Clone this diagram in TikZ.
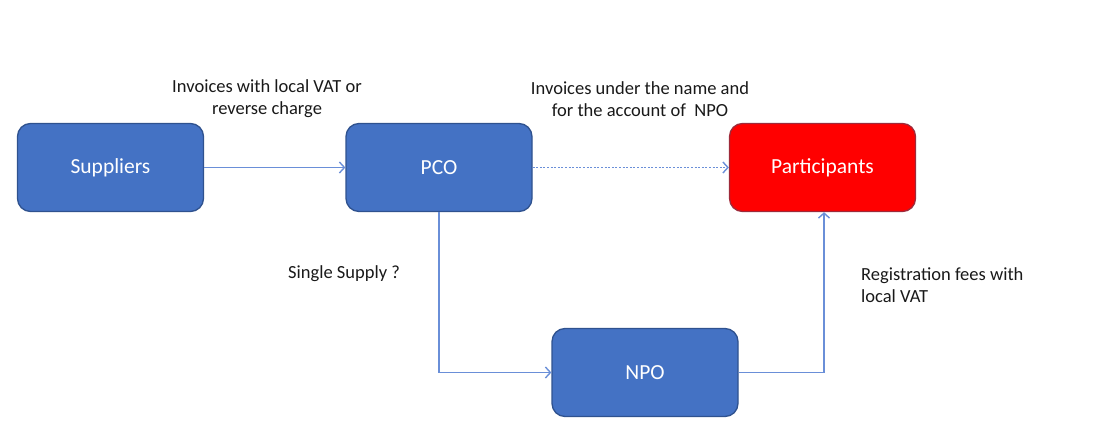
\documentclass[tikz,border=0pt]{standalone}
\usepackage{fontspec}
\setmainfont{Carlito}
\usetikzlibrary{arrows.meta}
\definecolor{boxblue}{HTML}{4472C4}
\definecolor{boxline}{HTML}{2F528F}
\definecolor{flowline}{HTML}{6A8FD8}
\definecolor{partred}{HTML}{FF0000}
\definecolor{partline}{HTML}{9E2A3A}

\begin{document}
\begin{tikzpicture}[x=1pt,y=-1pt,
    box/.style={draw=boxline,line width=1.3pt,fill=boxblue,rounded corners=13pt,
      minimum width=186pt,minimum height=88pt,text=white,
      font=\fontsize{21.5}{24}\selectfont},
    redbox/.style={box,fill=partred,draw=partline},
    note/.style={font=\fontsize{18.5}{22}\selectfont,text=black!90,align=center,inner sep=0pt},
    flow/.style={draw=flowline,line width=1.4pt,-{Straight Barb[length=5pt,width=11pt]}}]
  \useasboundingbox (0,0) rectangle (1107,427);
  \node[box] (sup) at (110.5,167.5) {Suppliers};
  \node[box] (pco) at (439,167.5) {PCO};
  \node[redbox] (part) at (822.5,167.5) {Participants};
  \node[box] (npo) at (645,372.5) {NPO};
  \coordinate (up) at (824,372.5);
  % labels
  \node[note] (l1) at (267,99) {Invoices with local VAT or\\reverse charge};
  \node[note] (l2) at (640,99) {Invoices under the name and\\for the account of \ NPO};
  \node[note,anchor=west] (l3) at (288,274) {Single Supply ?};
  \node[note,anchor=west,align=left] (l4) at (861,285) {Registration fees with\\local VAT};
  % flows
  \path[flow]
    (sup) edge (pco)
    (pco) edge[dash pattern=on 2pt off 1.6pt] (part);
  \draw[flow] (pco.south) |- (npo.west);
  \draw[flow] (npo.east) -| (part.south -| up);
\end{tikzpicture}
\end{document}
